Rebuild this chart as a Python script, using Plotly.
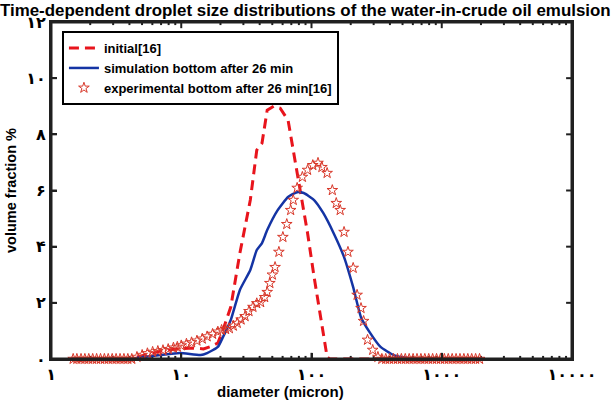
import plotly.graph_objects as go

# ---------------- data ----------------
# initial distribution [16] (red dashed)
init_d = [1.48, 3.98, 4.57, 5.62, 6.92, 8.91, 12.3, 14.8, 17.0, 19.1, 20.9, 24.0,
          28.2, 33.9, 38.0, 41.7, 45.7, 51.3, 57.5, 66.1, 72.4, 83.2, 93.3, 104.7,
          117.5, 131.8, 138.0, 2089]
init_v = [0, 0, 0.07, 0.18, 0.28, 0.35, 0.39, 0.36, 0.45, 0.57, 1.03, 1.85,
          3.77, 5.66, 7.44, 7.69, 8.86, 9.0, 8.93, 8.5, 7.44, 5.9, 4.48, 2.92,
          1.49, 0.07, 0, 0]

# simulation bottom after 26 min (blue solid)
sim_d = [1.48, 4.17, 4.57, 6.92, 9.77, 14.1, 15.8, 19.1, 20.9, 24.0, 28.2, 33.9,
         38.0, 41.7, 45.7, 55.0, 66.1, 77.6, 87.1, 104.7, 123.0, 147.9, 177.8,
         208.9, 239.9, 281.8, 338.8, 426.6, 549.5, 831.8, 2089]
sim_v = [0, 0, 0.04, 0.14, 0.21, 0.14, 0.21, 0.43, 0.78, 1.39, 2.46, 3.17,
         3.88, 4.13, 4.59, 5.30, 5.77, 5.94, 5.91, 5.66, 5.20, 4.48, 3.63,
         2.56, 1.49, 0.93, 0.43, 0.14, 0.04, 0, 0]

# experimental bottom after 26 min [16] (red open stars)
exp_d = [1.48, 1.58, 1.70, 1.82, 1.95, 2.09, 2.24, 2.40, 2.57, 2.75, 2.95, 3.16,
         3.39, 3.63, 3.89, 4.17,
         4.57, 5.01, 5.50, 6.03, 6.61, 7.24, 7.94, 8.71, 9.33, 10.0, 10.96, 12.0,
         13.2, 14.5, 15.8, 17.4, 19.1, 20.4, 21.9, 23.4, 25.1, 26.9, 28.8, 30.9,
         33.1, 35.5, 38.0, 40.7, 43.7, 45.7, 47.9, 50.1, 52.5, 56.2, 60.3, 64.6,
         69.2, 72.4, 77.6, 85.1, 93.3, 102.3, 112.2, 120.2, 131.8, 144.5, 154.9,
         166.0, 177.8, 190.5, 208.9, 223.9, 239.9, 251.2, 269.2, 295.1, 323.6,
         346.7, 371.5, 398.1, 426.6, 457.1, 489.8, 524.8, 562.3, 602.6, 645.7,
         691.8, 741.3, 794.3, 851.1, 912.0, 977.2, 1047, 1122, 1202, 1288, 1380,
         1479, 1585, 1698, 1820, 1950, 2089]
exp_v = [0, 0, 0, 0, 0, 0, 0, 0, 0, 0, 0, 0, 0, 0, 0, 0,
         0.07, 0.14, 0.20, 0.25, 0.28, 0.31, 0.35, 0.40, 0.43, 0.48, 0.54, 0.59,
         0.65, 0.72, 0.80, 0.89, 0.97, 1.03, 1.06, 1.09, 1.18, 1.28, 1.40, 1.52,
         1.70, 1.85, 1.98, 2.02, 2.20, 2.38, 2.70, 3.00, 3.27, 3.81, 4.34, 4.80,
         5.30, 5.66, 6.09, 6.48, 6.73, 6.90, 6.98, 6.83, 6.62, 6.01, 5.55,
         5.30, 4.52, 3.81, 3.24, 2.28, 1.81, 1.35, 0.68, 0.32, 0.07,
         0, 0, 0, 0, 0, 0, 0, 0, 0, 0,
         0, 0, 0, 0, 0, 0, 0, 0, 0, 0,
         0, 0, 0, 0, 0, 0]

x_tickvals = [1, 10, 100, 1000, 10000]
x_ticktext = ["۱", "۱۰", "۱۰۰", "۱۰۰۰", "۱۰۰۰۰"]
y_tickvals = [0, 2, 4, 6, 8, 10, 12]
y_ticktext = ["۰", "۲", "۴", "۶", "۸", "۱۰", "۱۲"]

X_RANGE = (1, 10000)
Y_RANGE = (0, 12)

FRAME = "#202020"

# ---------------- figure ----------------
fig = go.Figure()

xmin, xmax = X_RANGE
ymin, ymax = Y_RANGE
major_len_y = 0.22   # ~6 px in y-data units
minor_len_y = 0.11
major_fac_x = 1.11   # ~6 px in log-x
minor_x = [m * 10 ** k for k in range(4) for m in range(2, 10)]

tx, ty = [], []
for v in x_tickvals:
    tx += [v, v, None, v, v, None]
    ty += [ymin, ymin + major_len_y, None, ymax, ymax - major_len_y, None]
for v in minor_x:
    tx += [v, v, None, v, v, None]
    ty += [ymin, ymin + minor_len_y, None, ymax, ymax - minor_len_y, None]
for v in y_tickvals:
    tx += [xmin, xmin * major_fac_x, None, xmax, xmax / major_fac_x, None]
    ty += [v, v, None, v, v, None]
fig.add_trace(go.Scatter(x=tx, y=ty, mode="lines", showlegend=False,
                         line=dict(color=FRAME, width=2)))

fig.add_trace(go.Scatter(
    x=init_d, y=init_v, mode="lines", name="initial[16]",
    line=dict(color="#e8141c", width=3, dash="10px,6px")))
fig.add_trace(go.Scatter(
    x=sim_d, y=sim_v, mode="lines", name="simulation bottom after 26 min",
    line=dict(color="#1434a4", width=2.5, shape="spline", smoothing=0.5)))
fig.add_trace(go.Scatter(
    x=exp_d, y=exp_v, mode="markers", name="experimental bottom after 26 min[16]",
    marker=dict(symbol="star-open", size=8, color="#d8382a", line=dict(width=1)),
    cliponaxis=False))

fig.add_trace(go.Scatter(x=[xmin, xmax, xmax, xmin, xmin], y=[ymin, ymin, ymax, ymax, ymin],
                         mode="lines", showlegend=False,
                         line=dict(color=FRAME, width=3)))

tick_font = dict(family="DejaVu Sans", size=16, color="black", weight="bold")

fig.update_layout(
    width=615, height=403,
    margin=dict(l=51, r=43, t=22, b=44),
    paper_bgcolor="white", plot_bgcolor="white",
    font=dict(family="Liberation Sans, Arial, sans-serif", color="black"),
    title=dict(text="<b>Time-dependent droplet size distributions of the water-in-crude oil emulsion</b>",
               x=0.0, xanchor="left", xref="container",
               y=0.99, yanchor="top", yref="container",
               font=dict(size=16.9, color="black")),
    showlegend=True,
    legend=dict(x=0.021, y=0.973, xanchor="left", yanchor="top",
                bgcolor="white", bordercolor="black", borderwidth=2,
                font=dict(size=13, color="black", weight="bold"),
                tracegroupgap=0, itemwidth=30),
    xaxis=dict(type="log", range=[0, 4], automargin=False,
               tickmode="array", tickvals=x_tickvals, ticktext=x_ticktext,
               ticks="inside", ticklen=6, tickwidth=2, tickcolor=FRAME,
               showline=True, linecolor=FRAME, linewidth=2, mirror=True,
               showgrid=False, zeroline=False, tickfont=tick_font),
    yaxis=dict(range=[0, 12], automargin=False,
               tickmode="array", tickvals=y_tickvals, ticktext=y_ticktext,
               ticks="inside", ticklen=6, tickwidth=2, tickcolor=FRAME,
               showline=True, linecolor=FRAME, linewidth=2, mirror=True,
               showgrid=False, zeroline=False, tickfont=tick_font,
               title=dict(text="<b>volume fraction %</b>",
                          font=dict(size=14.5, color="black"), standoff=6)),
    annotations=[dict(text="<b>diameter (micron)</b>", xref="paper", yref="paper",
                      x=0.441, y=-0.095, xanchor="center", yanchor="middle",
                      showarrow=False, font=dict(size=15, color="black"))],
    shapes=[dict(type="rect", xref="paper", yref="paper", x0=0, y0=0, x1=1, y1=1,
                 line=dict(color=FRAME, width=2), fillcolor="rgba(0,0,0,0)",
                 layer="above")],
)

fig.write_html("out.html")
